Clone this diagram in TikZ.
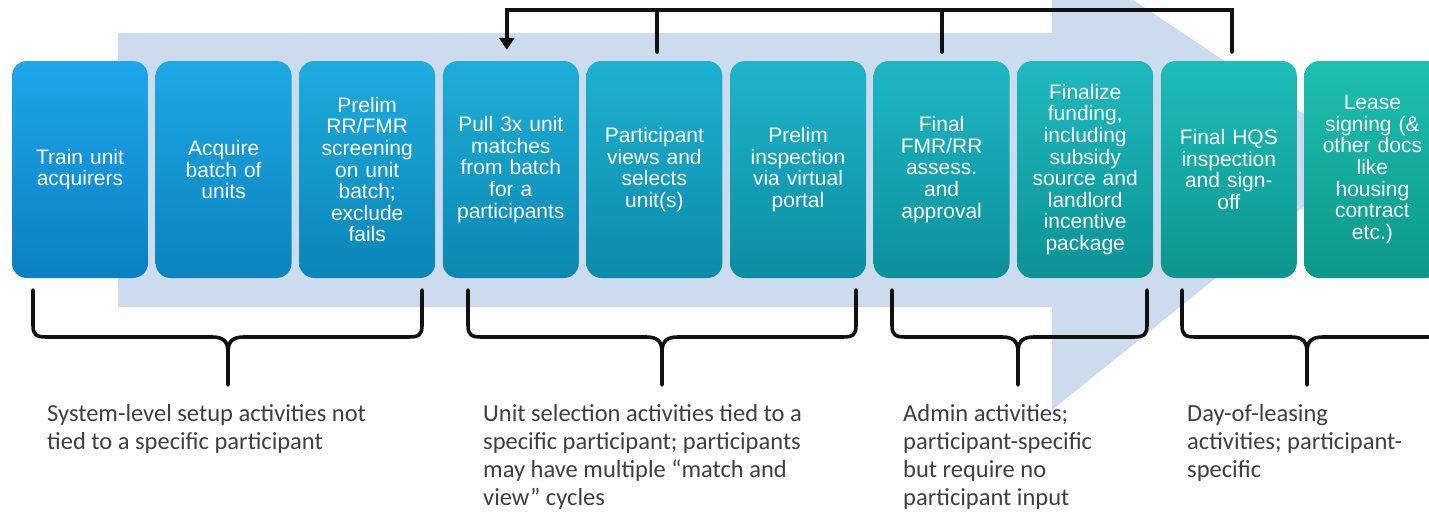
\documentclass[tikz,border=0pt]{standalone}
\usepackage{fontspec}
\setmainfont{Liberation Sans}
\newfontfamily\notefont{Carlito}
\usetikzlibrary{arrows.meta}

\definecolor{arrowbg}{HTML}{CCDCEE}
\definecolor{topL}{HTML}{1EA6EA}
\definecolor{botL}{HTML}{0A80C4}
\definecolor{topR}{HTML}{1EBFB2}
\definecolor{botR}{HTML}{0C9888}
\definecolor{notegray}{HTML}{3F3F3F}
\definecolor{linkblack}{HTML}{111111}

\tikzset{
  stepbox/.style={shade, top color=topR!#1!topL, bottom color=botR!#1!botL,
    rounded corners=15pt, minimum width=136pt, minimum height=217pt,
    inner sep=0pt, text width=132pt, align=center, text=white,
    font=\fontsize{21}{21.6}\selectfont},
  link/.style={line width=4pt, draw=linkblack, line cap=round, line join=miter},
  brace/.style={line width=3.6pt, draw=linkblack, line cap=round, line join=round},
  note/.style={anchor=north west, inner sep=0pt, align=left, text=notegray,
    font=\notefont\fontsize{24.5}{28}\selectfont},
}

% curly group brace: left x, right x, tip x
\newcommand\groupbrace[3]{%
  \draw[brace] (#1,290) -- (#1,325) .. controls (#1,335) and ({#1+3},337) .. ({#1+14},337)
    -- ({#3-16},337) .. controls ({#3-5},337) and (#3,341) .. (#3,352) -- (#3,385);
  \draw[brace] (#2,290) -- (#2,325) .. controls (#2,335) and ({#2-3},337) .. ({#2-14},337)
    -- ({#3+16},337) .. controls ({#3+5},337) and (#3,341) .. (#3,352);
}

\begin{document}
\begin{tikzpicture}[x=1pt,y=-1pt]
  \clip (0,0) rectangle (1429,512);
  \fill[white] (0,0) rectangle (1429,512);

  % broad process arrow behind the steps
  \fill[arrowbg] (118,33) -- (1052,33) -- (1052,-54) -- (1367,156)
    -- (1052,410) -- (1052,307) -- (118,307) -- cycle;

  % process steps
  \node[stepbox=0]   (b1)  at (80,169.5)    {Train unit\\acquirers};
  \node[stepbox=11]  (b2)  at (223.6,169.5) {Acquire\\batch of\\units};
  \node[stepbox=22]  (b3)  at (367.2,169.5) {Prelim\\RR/FMR\\screening\\on unit\\batch;\\exclude\\fails};
  \node[stepbox=33]  (b4)  at (510.8,169.5) {Pull 3x unit\\matches\\from batch\\for a\\participants};
  \node[stepbox=44]  (b5)  at (654.4,169.5) {Participant\\views and\\selects\\unit(s)};
  \node[stepbox=56]  (b6)  at (798,169.5)   {Prelim\\inspection\\via virtual\\portal};
  \node[stepbox=67]  (b7)  at (941.6,169.5) {Final\\FMR/RR\\assess.\\and\\approval};
  \node[stepbox=78]  (b8)  at (1085.2,169.5){Finalize\\funding,\\including\\subsidy\\source and\\landlord\\incentive\\package};
  \node[stepbox=89]  (b9)  at (1228.8,169.5){Final HQS\\inspection\\and sign-\\off};
  \node[stepbox=100] (b10) at (1372.4,169.5){Lease\\signing (\&\\other docs\\like\\housing\\contract\\etc.)};

  % feedback loop over the top
  \coordinate (bus) at (0,10);
  \draw[link, -{Triangle[width=15pt,length=12pt]}]
    ([xshift=3pt,yshift=9pt]b9.north) |- ([xshift=-4pt]b4.north |- bus)
    -- ([xshift=-4pt,yshift=11pt]b4.north);
  \draw[link] ([xshift=3pt,yshift=9pt]b5.north) -- ([xshift=3pt]b5.north |- bus);
  \draw[link] ([yshift=9pt]b7.north) -- (b7.north |- bus);

  % grouping braces
  \groupbrace{33}{422}{228}
  \groupbrace{468}{856}{662}
  \groupbrace{892}{1147}{1018}
  \groupbrace{1182}{1440}{1307}

  % group descriptions
  \node[note] (n1) at (47,404)   {System-level setup activities not\\tied to a specific participant};
  \node[note] (n2) at (483,404)  {Unit selection activities tied to a\\specific participant; participants\\may have multiple “match and\\view” cycles};
  \node[note] (n3) at (903,404)  {Admin activities;\\participant-specific\\but require no\\participant input};
  \node[note] (n4) at (1187,404) {Day-of-leasing\\activities; participant-\\specific};
\end{tikzpicture}
\end{document}
